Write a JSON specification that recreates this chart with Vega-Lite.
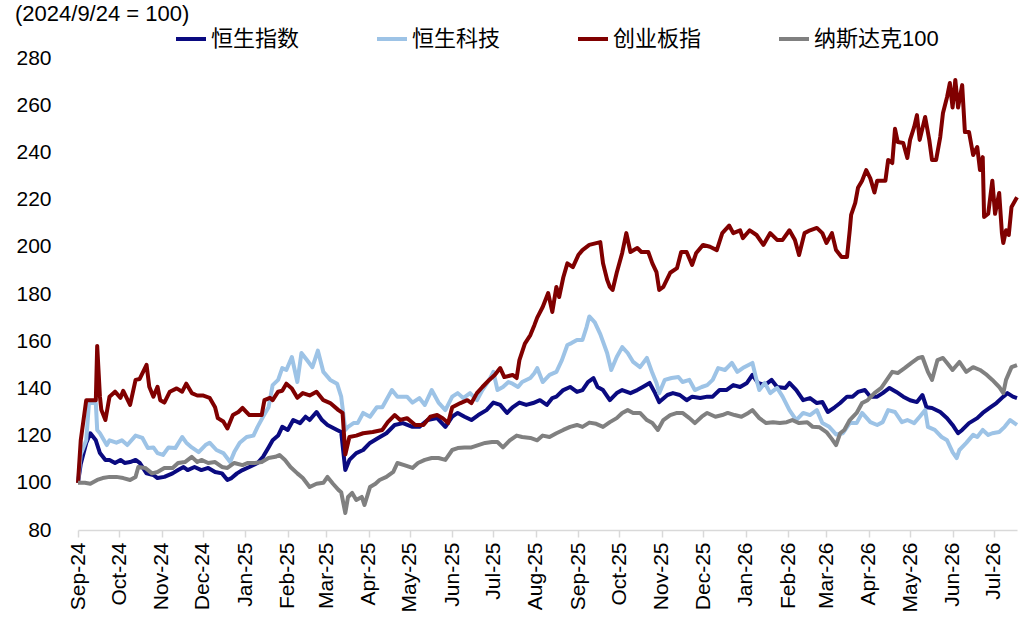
{
  "$schema": "https://vega.github.io/schema/vega-lite/v6.json",
  "width": 939,
  "height": 472,
  "autosize": {"type": "none"},
  "padding": {"left": 78, "top": 58, "right": 16, "bottom": 103},
  "background": "white",
  "config": {"view": {"stroke": null}, "font": "Liberation Sans, Noto Sans CJK SC"},
  "title": {
    "text": "(2024/9/24 = 100)",
    "anchor": "start",
    "frame": "group",
    "orient": "top",
    "fontSize": 22,
    "fontWeight": "normal",
    "font": "Liberation Sans",
    "color": "black",
    "dx": -63,
    "offset": -21,
    "baseline": "alphabetic"
  },
  "data": {
    "format": {"parse": {"date": "utc:'%Y-%m-%d'"}},
    "values": [
      {"date":"2024-09-24","index":"恒生指数","value":100},
      {"date":"2024-09-26","index":"恒生指数","value":108},
      {"date":"2024-09-30","index":"恒生指数","value":116.9},
      {"date":"2024-10-03","index":"恒生指数","value":121},
      {"date":"2024-10-07","index":"恒生指数","value":118},
      {"date":"2024-10-10","index":"恒生指数","value":112.6},
      {"date":"2024-10-14","index":"恒生指数","value":109.7},
      {"date":"2024-10-17","index":"恒生指数","value":109.7},
      {"date":"2024-10-21","index":"恒生指数","value":108.4},
      {"date":"2024-10-25","index":"恒生指数","value":109.7},
      {"date":"2024-10-28","index":"恒生指数","value":108.4},
      {"date":"2024-11-01","index":"恒生指数","value":108.8},
      {"date":"2024-11-05","index":"恒生指数","value":109.7},
      {"date":"2024-11-08","index":"恒生指数","value":108.4},
      {"date":"2024-11-13","index":"恒生指数","value":104},
      {"date":"2024-11-18","index":"恒生指数","value":103.3},
      {"date":"2024-11-21","index":"恒生指数","value":102},
      {"date":"2024-11-26","index":"恒生指数","value":102.5},
      {"date":"2024-12-02","index":"恒生指数","value":104},
      {"date":"2024-12-06","index":"恒生指数","value":105.4},
      {"date":"2024-12-10","index":"恒生指数","value":106.7},
      {"date":"2024-12-13","index":"恒生指数","value":105.4},
      {"date":"2024-12-18","index":"恒生指数","value":106.7},
      {"date":"2024-12-23","index":"恒生指数","value":105.4},
      {"date":"2024-12-28","index":"恒生指数","value":106.3},
      {"date":"2025-01-02","index":"恒生指数","value":104.6},
      {"date":"2025-01-07","index":"恒生指数","value":104},
      {"date":"2025-01-11","index":"恒生指数","value":101.2},
      {"date":"2025-01-14","index":"恒生指数","value":102},
      {"date":"2025-01-18","index":"恒生指数","value":104},
      {"date":"2025-01-22","index":"恒生指数","value":105.4},
      {"date":"2025-01-27","index":"恒生指数","value":106.7},
      {"date":"2025-02-02","index":"恒生指数","value":108.4},
      {"date":"2025-02-06","index":"恒生指数","value":111},
      {"date":"2025-02-10","index":"恒生指数","value":115},
      {"date":"2025-02-13","index":"恒生指数","value":118},
      {"date":"2025-02-17","index":"恒生指数","value":120},
      {"date":"2025-02-20","index":"恒生指数","value":123.7},
      {"date":"2025-02-24","index":"恒生指数","value":122.4},
      {"date":"2025-02-28","index":"恒生指数","value":126.6},
      {"date":"2025-03-05","index":"恒生指数","value":125.3},
      {"date":"2025-03-09","index":"恒生指数","value":128},
      {"date":"2025-03-12","index":"恒生指数","value":126.6},
      {"date":"2025-03-17","index":"恒生指数","value":130},
      {"date":"2025-03-21","index":"恒生指数","value":126.6},
      {"date":"2025-03-25","index":"恒生指数","value":124.5},
      {"date":"2025-04-01","index":"恒生指数","value":122.4},
      {"date":"2025-04-04","index":"恒生指数","value":121.5},
      {"date":"2025-04-07","index":"恒生指数","value":105.4},
      {"date":"2025-04-10","index":"恒生指数","value":109.7},
      {"date":"2025-04-15","index":"恒生指数","value":112.6},
      {"date":"2025-04-20","index":"恒生指数","value":113.9},
      {"date":"2025-04-25","index":"恒生指数","value":116.9},
      {"date":"2025-05-01","index":"恒生指数","value":119},
      {"date":"2025-05-07","index":"恒生指数","value":121},
      {"date":"2025-05-13","index":"恒生指数","value":124.5},
      {"date":"2025-05-19","index":"恒生指数","value":125.3},
      {"date":"2025-05-26","index":"恒生指数","value":123.7},
      {"date":"2025-05-31","index":"恒生指数","value":123.7},
      {"date":"2025-06-06","index":"恒生指数","value":126.6},
      {"date":"2025-06-13","index":"恒生指数","value":127.4},
      {"date":"2025-06-19","index":"恒生指数","value":123.7},
      {"date":"2025-06-24","index":"恒生指数","value":128},
      {"date":"2025-06-28","index":"恒生指数","value":129.6},
      {"date":"2025-07-03","index":"恒生指数","value":128},
      {"date":"2025-07-08","index":"恒生指数","value":126.6},
      {"date":"2025-07-13","index":"恒生指数","value":128.7},
      {"date":"2025-07-19","index":"恒生指数","value":130.8},
      {"date":"2025-07-24","index":"恒生指数","value":134},
      {"date":"2025-07-29","index":"恒生指数","value":133},
      {"date":"2025-08-03","index":"恒生指数","value":129.6},
      {"date":"2025-08-07","index":"恒生指数","value":132},
      {"date":"2025-08-12","index":"恒生指数","value":134},
      {"date":"2025-08-17","index":"恒生指数","value":133},
      {"date":"2025-08-22","index":"恒生指数","value":133.8},
      {"date":"2025-08-27","index":"恒生指数","value":135},
      {"date":"2025-09-01","index":"恒生指数","value":133},
      {"date":"2025-09-05","index":"恒生指数","value":135.9},
      {"date":"2025-09-08","index":"恒生指数","value":136.5},
      {"date":"2025-09-13","index":"恒生指数","value":139.3},
      {"date":"2025-09-18","index":"恒生指数","value":140.6},
      {"date":"2025-09-23","index":"恒生指数","value":138.5},
      {"date":"2025-09-27","index":"恒生指数","value":139.3},
      {"date":"2025-10-01","index":"恒生指数","value":142.7},
      {"date":"2025-10-05","index":"恒生指数","value":144.4},
      {"date":"2025-10-08","index":"恒生指数","value":140.6},
      {"date":"2025-10-12","index":"恒生指数","value":139.3},
      {"date":"2025-10-17","index":"恒生指数","value":135},
      {"date":"2025-10-22","index":"恒生指数","value":138},
      {"date":"2025-10-26","index":"恒生指数","value":139.3},
      {"date":"2025-11-01","index":"恒生指数","value":138},
      {"date":"2025-11-06","index":"恒生指数","value":139.3},
      {"date":"2025-11-10","index":"恒生指数","value":140.6},
      {"date":"2025-11-15","index":"恒生指数","value":142.3},
      {"date":"2025-11-19","index":"恒生指数","value":138},
      {"date":"2025-11-22","index":"恒生指数","value":134.2},
      {"date":"2025-11-28","index":"恒生指数","value":137.2},
      {"date":"2025-12-02","index":"恒生指数","value":138},
      {"date":"2025-12-07","index":"恒生指数","value":137.2},
      {"date":"2025-12-12","index":"恒生指数","value":135},
      {"date":"2025-12-16","index":"恒生指数","value":136.5},
      {"date":"2025-12-22","index":"恒生指数","value":135.9},
      {"date":"2025-12-27","index":"恒生指数","value":136.5},
      {"date":"2025-12-31","index":"恒生指数","value":136.5},
      {"date":"2026-01-05","index":"恒生指数","value":139.3},
      {"date":"2026-01-10","index":"恒生指数","value":139.3},
      {"date":"2026-01-15","index":"恒生指数","value":141.4},
      {"date":"2026-01-20","index":"恒生指数","value":140.6},
      {"date":"2026-01-25","index":"恒生指数","value":142.3},
      {"date":"2026-01-29","index":"恒生指数","value":145.7},
      {"date":"2026-02-02","index":"恒生指数","value":142.3},
      {"date":"2026-02-07","index":"恒生指数","value":141.4},
      {"date":"2026-02-12","index":"恒生指数","value":143.6},
      {"date":"2026-02-16","index":"恒生指数","value":140.6},
      {"date":"2026-02-22","index":"恒生指数","value":140.2},
      {"date":"2026-02-25","index":"恒生指数","value":142.3},
      {"date":"2026-03-02","index":"恒生指数","value":139.3},
      {"date":"2026-03-07","index":"恒生指数","value":135},
      {"date":"2026-03-12","index":"恒生指数","value":135.9},
      {"date":"2026-03-17","index":"恒生指数","value":133.8},
      {"date":"2026-03-21","index":"恒生指数","value":134.2},
      {"date":"2026-03-25","index":"恒生指数","value":130},
      {"date":"2026-03-30","index":"恒生指数","value":132},
      {"date":"2026-04-03","index":"恒生指数","value":133.8},
      {"date":"2026-04-08","index":"恒生指数","value":136.5},
      {"date":"2026-04-12","index":"恒生指数","value":136.5},
      {"date":"2026-04-16","index":"恒生指数","value":138.5},
      {"date":"2026-04-21","index":"恒生指数","value":139.3},
      {"date":"2026-04-25","index":"恒生指数","value":136.5},
      {"date":"2026-04-30","index":"恒生指数","value":136.5},
      {"date":"2026-05-04","index":"恒生指数","value":138},
      {"date":"2026-05-09","index":"恒生指数","value":140.2},
      {"date":"2026-05-14","index":"恒生指数","value":138.5},
      {"date":"2026-05-19","index":"恒生指数","value":136.5},
      {"date":"2026-05-24","index":"恒生指数","value":135},
      {"date":"2026-05-29","index":"恒生指数","value":134.2},
      {"date":"2026-06-02","index":"恒生指数","value":137.2},
      {"date":"2026-06-05","index":"恒生指数","value":132},
      {"date":"2026-06-09","index":"恒生指数","value":131.7},
      {"date":"2026-06-15","index":"恒生指数","value":130},
      {"date":"2026-06-20","index":"恒生指数","value":127.4},
      {"date":"2026-06-24","index":"恒生指数","value":124.5},
      {"date":"2026-06-28","index":"恒生指数","value":121},
      {"date":"2026-07-01","index":"恒生指数","value":122.4},
      {"date":"2026-07-06","index":"恒生指数","value":125.3},
      {"date":"2026-07-12","index":"恒生指数","value":127.4},
      {"date":"2026-07-16","index":"恒生指数","value":129.6},
      {"date":"2026-07-21","index":"恒生指数","value":131.7},
      {"date":"2026-07-26","index":"恒生指数","value":133.8},
      {"date":"2026-07-31","index":"恒生指数","value":136.5},
      {"date":"2026-08-03","index":"恒生指数","value":138},
      {"date":"2026-08-07","index":"恒生指数","value":136.5},
      {"date":"2026-08-10","index":"恒生指数","value":135.9},

      {"date":"2024-09-24","index":"恒生科技","value":100},
      {"date":"2024-09-26","index":"恒生科技","value":112},
      {"date":"2024-09-30","index":"恒生科技","value":118},
      {"date":"2024-10-02","index":"恒生科技","value":133.8},
      {"date":"2024-10-07","index":"恒生科技","value":133.8},
      {"date":"2024-10-08","index":"恒生科技","value":122.4},
      {"date":"2024-10-10","index":"恒生科技","value":121},
      {"date":"2024-10-15","index":"恒生科技","value":116},
      {"date":"2024-10-17","index":"恒生科技","value":118},
      {"date":"2024-10-22","index":"恒生科技","value":117},
      {"date":"2024-10-26","index":"恒生科技","value":118},
      {"date":"2024-10-30","index":"恒生科技","value":116},
      {"date":"2024-11-05","index":"恒生科技","value":120},
      {"date":"2024-11-10","index":"恒生科技","value":119},
      {"date":"2024-11-14","index":"恒生科技","value":114.7},
      {"date":"2024-11-18","index":"恒生科技","value":115},
      {"date":"2024-11-21","index":"恒生科技","value":112.6},
      {"date":"2024-11-25","index":"恒生科技","value":111.8},
      {"date":"2024-11-29","index":"恒生科技","value":115},
      {"date":"2024-12-04","index":"恒生科技","value":114.7},
      {"date":"2024-12-09","index":"恒生科技","value":119.4},
      {"date":"2024-12-12","index":"恒生科技","value":117},
      {"date":"2024-12-16","index":"恒生科技","value":115},
      {"date":"2024-12-21","index":"恒生科技","value":113},
      {"date":"2024-12-26","index":"恒生科技","value":116},
      {"date":"2024-12-29","index":"恒生科技","value":117},
      {"date":"2025-01-03","index":"恒生科技","value":113.9},
      {"date":"2025-01-08","index":"恒生科技","value":112.6},
      {"date":"2025-01-13","index":"恒生科技","value":108.8},
      {"date":"2025-01-16","index":"恒生科技","value":113},
      {"date":"2025-01-20","index":"恒生科技","value":117},
      {"date":"2025-01-25","index":"恒生科技","value":119.4},
      {"date":"2025-01-30","index":"恒生科技","value":120},
      {"date":"2025-02-02","index":"恒生科技","value":123.7},
      {"date":"2025-02-06","index":"恒生科技","value":128},
      {"date":"2025-02-10","index":"恒生科技","value":132},
      {"date":"2025-02-13","index":"恒生科技","value":141.4},
      {"date":"2025-02-17","index":"恒生科技","value":143.6},
      {"date":"2025-02-20","index":"恒生科技","value":148.6},
      {"date":"2025-02-23","index":"恒生科技","value":147.8},
      {"date":"2025-02-27","index":"恒生科技","value":153.3},
      {"date":"2025-03-03","index":"恒生科技","value":142.7},
      {"date":"2025-03-06","index":"恒生科技","value":155},
      {"date":"2025-03-10","index":"恒生科技","value":152},
      {"date":"2025-03-14","index":"恒生科技","value":149},
      {"date":"2025-03-18","index":"恒生科技","value":156},
      {"date":"2025-03-22","index":"恒生科技","value":147},
      {"date":"2025-03-27","index":"恒生科技","value":143.6},
      {"date":"2025-04-01","index":"恒生科技","value":142},
      {"date":"2025-04-04","index":"恒生科技","value":136.5},
      {"date":"2025-04-07","index":"恒生科技","value":122.4},
      {"date":"2025-04-09","index":"恒生科技","value":123.7},
      {"date":"2025-04-13","index":"恒生科技","value":125.3},
      {"date":"2025-04-16","index":"恒生科技","value":125.3},
      {"date":"2025-04-20","index":"恒生科技","value":129.6},
      {"date":"2025-04-25","index":"恒生科技","value":128},
      {"date":"2025-04-30","index":"恒生科技","value":132},
      {"date":"2025-05-04","index":"恒生科技","value":132},
      {"date":"2025-05-11","index":"恒生科技","value":139.3},
      {"date":"2025-05-15","index":"恒生科技","value":136.5},
      {"date":"2025-05-22","index":"恒生科技","value":136.5},
      {"date":"2025-05-26","index":"恒生科技","value":134},
      {"date":"2025-05-31","index":"恒生科技","value":135.9},
      {"date":"2025-06-04","index":"恒生科技","value":133},
      {"date":"2025-06-09","index":"恒生科技","value":139.3},
      {"date":"2025-06-14","index":"恒生科技","value":134},
      {"date":"2025-06-19","index":"恒生科技","value":130.8},
      {"date":"2025-06-24","index":"恒生科技","value":136.5},
      {"date":"2025-06-28","index":"恒生科技","value":138},
      {"date":"2025-07-02","index":"恒生科技","value":135.9},
      {"date":"2025-07-07","index":"恒生科技","value":138},
      {"date":"2025-07-12","index":"恒生科技","value":135},
      {"date":"2025-07-16","index":"恒生科技","value":139.3},
      {"date":"2025-07-21","index":"恒生科技","value":143.6},
      {"date":"2025-07-24","index":"恒生科技","value":147},
      {"date":"2025-07-27","index":"恒生科技","value":139.3},
      {"date":"2025-07-31","index":"恒生科技","value":140.6},
      {"date":"2025-08-04","index":"恒生科技","value":142.7},
      {"date":"2025-08-07","index":"恒生科技","value":142},
      {"date":"2025-08-11","index":"恒生科技","value":140.6},
      {"date":"2025-08-14","index":"恒生科技","value":142.7},
      {"date":"2025-08-20","index":"恒生科技","value":144.4},
      {"date":"2025-08-23","index":"恒生科技","value":146.5},
      {"date":"2025-08-25","index":"恒生科技","value":148.6},
      {"date":"2025-08-29","index":"恒生科技","value":142.7},
      {"date":"2025-09-03","index":"恒生科技","value":145.7},
      {"date":"2025-09-08","index":"恒生科技","value":147},
      {"date":"2025-09-12","index":"恒生科技","value":152},
      {"date":"2025-09-16","index":"恒生科技","value":158.4},
      {"date":"2025-09-19","index":"恒生科技","value":159.2},
      {"date":"2025-09-23","index":"恒生科技","value":160.5},
      {"date":"2025-09-27","index":"恒生科技","value":160.5},
      {"date":"2025-09-30","index":"恒生科技","value":166},
      {"date":"2025-10-02","index":"恒生科技","value":170.5},
      {"date":"2025-10-06","index":"恒生科技","value":168},
      {"date":"2025-10-10","index":"恒生科技","value":163},
      {"date":"2025-10-15","index":"恒生科技","value":155},
      {"date":"2025-10-18","index":"恒生科技","value":147.8},
      {"date":"2025-10-22","index":"恒生科技","value":153.3},
      {"date":"2025-10-26","index":"恒生科技","value":157.5},
      {"date":"2025-10-30","index":"恒生科技","value":155},
      {"date":"2025-11-03","index":"恒生科技","value":151.2},
      {"date":"2025-11-08","index":"恒生科技","value":149},
      {"date":"2025-11-13","index":"恒生科技","value":152.9},
      {"date":"2025-11-17","index":"恒生科技","value":146.5},
      {"date":"2025-11-20","index":"恒生科技","value":142.3},
      {"date":"2025-11-22","index":"恒生科技","value":138},
      {"date":"2025-11-26","index":"恒生科技","value":143.6},
      {"date":"2025-12-01","index":"恒生科技","value":144.4},
      {"date":"2025-12-06","index":"恒生科技","value":144.8},
      {"date":"2025-12-09","index":"恒生科技","value":142.7},
      {"date":"2025-12-14","index":"恒生科技","value":143.6},
      {"date":"2025-12-18","index":"恒生科技","value":139.3},
      {"date":"2025-12-23","index":"恒生科技","value":140.6},
      {"date":"2025-12-27","index":"恒生科技","value":141.4},
      {"date":"2025-12-31","index":"恒生科技","value":143.6},
      {"date":"2026-01-04","index":"恒生科技","value":148.6},
      {"date":"2026-01-09","index":"恒生科技","value":147.8},
      {"date":"2026-01-14","index":"恒生科技","value":150.8},
      {"date":"2026-01-18","index":"恒生科技","value":147},
      {"date":"2026-01-23","index":"恒生科技","value":149},
      {"date":"2026-01-29","index":"恒生科技","value":150.8},
      {"date":"2026-02-01","index":"恒生科技","value":143.6},
      {"date":"2026-02-03","index":"恒生科技","value":139.3},
      {"date":"2026-02-07","index":"恒生科技","value":142.3},
      {"date":"2026-02-11","index":"恒生科技","value":138},
      {"date":"2026-02-16","index":"恒生科技","value":140.2},
      {"date":"2026-02-20","index":"恒生科技","value":136.5},
      {"date":"2026-02-25","index":"恒生科技","value":130.8},
      {"date":"2026-03-02","index":"恒生科技","value":126.6},
      {"date":"2026-03-07","index":"恒生科技","value":129.6},
      {"date":"2026-03-12","index":"恒生科技","value":128.7},
      {"date":"2026-03-17","index":"恒生科技","value":130.8},
      {"date":"2026-03-21","index":"恒生科技","value":125.3},
      {"date":"2026-03-26","index":"恒生科技","value":123.7},
      {"date":"2026-03-31","index":"恒生科技","value":120.5},
      {"date":"2026-04-05","index":"恒生科技","value":121},
      {"date":"2026-04-10","index":"恒生科技","value":125.3},
      {"date":"2026-04-15","index":"恒生科技","value":125.3},
      {"date":"2026-04-19","index":"恒生科技","value":129.6},
      {"date":"2026-04-25","index":"恒生科技","value":125.7},
      {"date":"2026-04-30","index":"恒生科技","value":124.5},
      {"date":"2026-05-04","index":"恒生科技","value":125.7},
      {"date":"2026-05-08","index":"恒生科技","value":130.8},
      {"date":"2026-05-13","index":"恒生科技","value":130},
      {"date":"2026-05-18","index":"恒生科技","value":125.7},
      {"date":"2026-05-22","index":"恒生科技","value":126.6},
      {"date":"2026-05-27","index":"恒生科技","value":125.3},
      {"date":"2026-05-31","index":"恒生科技","value":128},
      {"date":"2026-06-04","index":"恒生科技","value":130.8},
      {"date":"2026-06-06","index":"恒生科技","value":123.7},
      {"date":"2026-06-11","index":"恒生科技","value":122.4},
      {"date":"2026-06-16","index":"恒生科技","value":119.4},
      {"date":"2026-06-20","index":"恒生科技","value":118},
      {"date":"2026-06-24","index":"恒生科技","value":113},
      {"date":"2026-06-27","index":"恒生科技","value":110.5},
      {"date":"2026-06-29","index":"恒生科技","value":113.9},
      {"date":"2026-07-04","index":"恒生科技","value":116.9},
      {"date":"2026-07-09","index":"恒生科技","value":120.3},
      {"date":"2026-07-12","index":"恒生科技","value":119.4},
      {"date":"2026-07-16","index":"恒生科技","value":122.4},
      {"date":"2026-07-20","index":"恒生科技","value":120.3},
      {"date":"2026-07-23","index":"恒生科技","value":121},
      {"date":"2026-07-28","index":"恒生科技","value":121.5},
      {"date":"2026-08-01","index":"恒生科技","value":123.7},
      {"date":"2026-08-05","index":"恒生科技","value":126.6},
      {"date":"2026-08-10","index":"恒生科技","value":124.5},

      {"date":"2024-09-24","index":"创业板指","value":100},
      {"date":"2024-09-26","index":"创业板指","value":118},
      {"date":"2024-09-30","index":"创业板指","value":135},
      {"date":"2024-10-07","index":"创业板指","value":135},
      {"date":"2024-10-08","index":"创业板指","value":158},
      {"date":"2024-10-10","index":"创业板指","value":136.5},
      {"date":"2024-10-11","index":"创业板指","value":131},
      {"date":"2024-10-14","index":"创业板指","value":126.6},
      {"date":"2024-10-17","index":"创业板指","value":136.5},
      {"date":"2024-10-21","index":"创业板指","value":138.6},
      {"date":"2024-10-25","index":"创业板指","value":136},
      {"date":"2024-10-27","index":"创业板指","value":139},
      {"date":"2024-11-01","index":"创业板指","value":133},
      {"date":"2024-11-05","index":"创业板指","value":143.6},
      {"date":"2024-11-08","index":"创业板指","value":144},
      {"date":"2024-11-13","index":"创业板指","value":150},
      {"date":"2024-11-15","index":"创业板指","value":140.7},
      {"date":"2024-11-18","index":"创业板指","value":136.5},
      {"date":"2024-11-21","index":"创业板指","value":140.7},
      {"date":"2024-11-23","index":"创业板指","value":135},
      {"date":"2024-11-26","index":"创业板指","value":134},
      {"date":"2024-11-30","index":"创业板指","value":138.6},
      {"date":"2024-12-05","index":"创业板指","value":140},
      {"date":"2024-12-09","index":"创业板指","value":138.6},
      {"date":"2024-12-12","index":"创业板指","value":142},
      {"date":"2024-12-16","index":"创业板指","value":138},
      {"date":"2024-12-20","index":"创业板指","value":137},
      {"date":"2024-12-24","index":"创业板指","value":137},
      {"date":"2024-12-29","index":"创业板指","value":136},
      {"date":"2025-01-02","index":"创业板指","value":132},
      {"date":"2025-01-04","index":"创业板指","value":127.4},
      {"date":"2025-01-08","index":"创业板指","value":126},
      {"date":"2025-01-11","index":"创业板指","value":123},
      {"date":"2025-01-15","index":"创业板指","value":128.7},
      {"date":"2025-01-19","index":"创业板指","value":130},
      {"date":"2025-01-22","index":"创业板指","value":131.7},
      {"date":"2025-01-27","index":"创业板指","value":128.7},
      {"date":"2025-02-05","index":"创业板指","value":128.7},
      {"date":"2025-02-07","index":"创业板指","value":135},
      {"date":"2025-02-11","index":"创业板指","value":136},
      {"date":"2025-02-13","index":"创业板指","value":135},
      {"date":"2025-02-17","index":"创业板指","value":138.6},
      {"date":"2025-02-20","index":"创业板指","value":139},
      {"date":"2025-02-23","index":"创业板指","value":142},
      {"date":"2025-02-27","index":"创业板指","value":140},
      {"date":"2025-03-03","index":"创业板指","value":136},
      {"date":"2025-03-07","index":"创业板指","value":138},
      {"date":"2025-03-12","index":"创业板指","value":137},
      {"date":"2025-03-17","index":"创业板指","value":138.6},
      {"date":"2025-03-22","index":"创业板指","value":135},
      {"date":"2025-03-27","index":"创业板指","value":133.8},
      {"date":"2025-04-02","index":"创业板指","value":130.8},
      {"date":"2025-04-05","index":"创业板指","value":129.6},
      {"date":"2025-04-07","index":"创业板指","value":112},
      {"date":"2025-04-10","index":"创业板指","value":119.4},
      {"date":"2025-04-15","index":"创业板指","value":120},
      {"date":"2025-04-20","index":"创业板指","value":121},
      {"date":"2025-04-27","index":"创业板指","value":121.5},
      {"date":"2025-05-04","index":"创业板指","value":122.4},
      {"date":"2025-05-08","index":"创业板指","value":125.7},
      {"date":"2025-05-13","index":"创业板指","value":128.7},
      {"date":"2025-05-17","index":"创业板指","value":126.6},
      {"date":"2025-05-22","index":"创业板指","value":127.4},
      {"date":"2025-05-28","index":"创业板指","value":124.5},
      {"date":"2025-06-03","index":"创业板指","value":124.5},
      {"date":"2025-06-08","index":"创业板指","value":128},
      {"date":"2025-06-13","index":"创业板指","value":128.7},
      {"date":"2025-06-17","index":"创业板指","value":127.4},
      {"date":"2025-06-21","index":"创业板指","value":125.3},
      {"date":"2025-06-24","index":"创业板指","value":132},
      {"date":"2025-06-30","index":"创业板指","value":133.8},
      {"date":"2025-07-05","index":"创业板指","value":135},
      {"date":"2025-07-08","index":"创业板指","value":133.8},
      {"date":"2025-07-12","index":"创业板指","value":138},
      {"date":"2025-07-16","index":"创业板指","value":140.6},
      {"date":"2025-07-21","index":"创业板指","value":143.6},
      {"date":"2025-07-25","index":"创业板指","value":145.7},
      {"date":"2025-07-29","index":"创业板指","value":148.6},
      {"date":"2025-08-01","index":"创业板指","value":144.8},
      {"date":"2025-08-07","index":"创业板指","value":145.7},
      {"date":"2025-08-10","index":"创业板指","value":144.4},
      {"date":"2025-08-12","index":"创业板指","value":152},
      {"date":"2025-08-16","index":"创业板指","value":159},
      {"date":"2025-08-20","index":"创业板指","value":162.6},
      {"date":"2025-08-23","index":"创业板指","value":166.9},
      {"date":"2025-08-25","index":"创业板指","value":170},
      {"date":"2025-08-29","index":"创业板指","value":174.5},
      {"date":"2025-09-02","index":"创业板指","value":180.4},
      {"date":"2025-09-05","index":"创业板指","value":172.4},
      {"date":"2025-09-08","index":"创业板指","value":183},
      {"date":"2025-09-10","index":"创业板指","value":178.7},
      {"date":"2025-09-13","index":"创业板指","value":187},
      {"date":"2025-09-16","index":"创业板指","value":193},
      {"date":"2025-09-20","index":"创业板指","value":191.4},
      {"date":"2025-09-24","index":"创业板指","value":196.5},
      {"date":"2025-09-27","index":"创业板指","value":198.6},
      {"date":"2025-10-02","index":"创业板指","value":200.8},
      {"date":"2025-10-10","index":"创业板指","value":202},
      {"date":"2025-10-12","index":"创业板指","value":193},
      {"date":"2025-10-15","index":"创业板指","value":186},
      {"date":"2025-10-17","index":"创业板指","value":183},
      {"date":"2025-10-19","index":"创业板指","value":181.7},
      {"date":"2025-10-22","index":"创业板指","value":189},
      {"date":"2025-10-26","index":"创业板指","value":197.4},
      {"date":"2025-10-29","index":"创业板指","value":205.8},
      {"date":"2025-11-01","index":"创业板指","value":197.8},
      {"date":"2025-11-06","index":"创业板指","value":199.5},
      {"date":"2025-11-09","index":"创业板指","value":197.8},
      {"date":"2025-11-14","index":"创业板指","value":197.8},
      {"date":"2025-11-17","index":"创业板指","value":193},
      {"date":"2025-11-20","index":"创业板指","value":189.3},
      {"date":"2025-11-22","index":"创业板指","value":181.7},
      {"date":"2025-11-25","index":"创业板指","value":183},
      {"date":"2025-11-30","index":"创业板指","value":189},
      {"date":"2025-12-05","index":"创业板指","value":191},
      {"date":"2025-12-08","index":"创业板指","value":197.8},
      {"date":"2025-12-12","index":"创业板指","value":197.8},
      {"date":"2025-12-16","index":"创业板指","value":192.3},
      {"date":"2025-12-19","index":"创业板指","value":197.4},
      {"date":"2025-12-24","index":"创业板指","value":200.8},
      {"date":"2025-12-29","index":"创业板指","value":200},
      {"date":"2026-01-03","index":"创业板指","value":198.6},
      {"date":"2026-01-07","index":"创业板指","value":205.8},
      {"date":"2026-01-12","index":"创业板指","value":209},
      {"date":"2026-01-15","index":"创业板指","value":205.8},
      {"date":"2026-01-20","index":"创业板指","value":207},
      {"date":"2026-01-22","index":"创业板指","value":203.7},
      {"date":"2026-01-27","index":"创业板指","value":207},
      {"date":"2026-02-01","index":"创业板指","value":205},
      {"date":"2026-02-06","index":"创业板指","value":200.8},
      {"date":"2026-02-11","index":"创业板指","value":205.8},
      {"date":"2026-02-16","index":"创业板指","value":202.9},
      {"date":"2026-02-20","index":"创业板指","value":202.9},
      {"date":"2026-02-25","index":"创业板指","value":207},
      {"date":"2026-03-01","index":"创业板指","value":202.9},
      {"date":"2026-03-04","index":"创业板指","value":196.5},
      {"date":"2026-03-08","index":"创业板指","value":205.8},
      {"date":"2026-03-12","index":"创业板指","value":207},
      {"date":"2026-03-17","index":"创业板指","value":208},
      {"date":"2026-03-21","index":"创业板指","value":205.8},
      {"date":"2026-03-24","index":"创业板指","value":201.6},
      {"date":"2026-03-28","index":"创业板指","value":205.8},
      {"date":"2026-03-31","index":"创业板指","value":198.6},
      {"date":"2026-04-04","index":"创业板指","value":195.7},
      {"date":"2026-04-08","index":"创业板指","value":195.7},
      {"date":"2026-04-10","index":"创业板指","value":207},
      {"date":"2026-04-11","index":"创业板指","value":213.5},
      {"date":"2026-04-14","index":"创业板指","value":218.6},
      {"date":"2026-04-16","index":"创业板指","value":225},
      {"date":"2026-04-19","index":"创业板指","value":228},
      {"date":"2026-04-22","index":"创业板指","value":232.5},
      {"date":"2026-04-25","index":"创业板指","value":229},
      {"date":"2026-04-28","index":"创业板指","value":223},
      {"date":"2026-04-30","index":"创业板指","value":228},
      {"date":"2026-05-06","index":"创业板指","value":228},
      {"date":"2026-05-08","index":"创业板指","value":236.8},
      {"date":"2026-05-11","index":"创业板指","value":235.5},
      {"date":"2026-05-13","index":"创业板指","value":250},
      {"date":"2026-05-15","index":"创业板指","value":244.4},
      {"date":"2026-05-19","index":"创业板指","value":244},
      {"date":"2026-05-22","index":"创业板指","value":237.6},
      {"date":"2026-05-24","index":"创业板指","value":245.3},
      {"date":"2026-05-27","index":"创业板指","value":250.8},
      {"date":"2026-05-29","index":"创业板指","value":255.8},
      {"date":"2026-05-31","index":"创业板指","value":245.3},
      {"date":"2026-06-04","index":"创业板指","value":255},
      {"date":"2026-06-07","index":"创业板指","value":245.3},
      {"date":"2026-06-09","index":"创业板指","value":236.8},
      {"date":"2026-06-12","index":"创业板指","value":236.8},
      {"date":"2026-06-15","index":"创业板指","value":246.5},
      {"date":"2026-06-17","index":"创业板指","value":256.7},
      {"date":"2026-06-20","index":"创业板指","value":263.5},
      {"date":"2026-06-22","index":"创业板指","value":269.4},
      {"date":"2026-06-24","index":"创业板指","value":259},
      {"date":"2026-06-26","index":"创业板指","value":270.7},
      {"date":"2026-06-28","index":"创业板指","value":259},
      {"date":"2026-07-01","index":"创业板指","value":268.5},
      {"date":"2026-07-03","index":"创业板指","value":248.6},
      {"date":"2026-07-06","index":"创业板指","value":248.6},
      {"date":"2026-07-09","index":"创业板指","value":238.9},
      {"date":"2026-07-12","index":"创业板指","value":242.3},
      {"date":"2026-07-14","index":"创业板指","value":232.5},
      {"date":"2026-07-16","index":"创业板指","value":238},
      {"date":"2026-07-17","index":"创业板指","value":212.6},
      {"date":"2026-07-20","index":"创业板指","value":214},
      {"date":"2026-07-23","index":"创业板指","value":228},
      {"date":"2026-07-25","index":"创业板指","value":214},
      {"date":"2026-07-28","index":"创业板指","value":222.8},
      {"date":"2026-07-30","index":"创业板指","value":205.8},
      {"date":"2026-07-31","index":"创业板指","value":201.6},
      {"date":"2026-08-02","index":"创业板指","value":207},
      {"date":"2026-08-04","index":"创业板指","value":205},
      {"date":"2026-08-06","index":"创业板指","value":216.9},
      {"date":"2026-08-10","index":"创业板指","value":221},

      {"date":"2024-09-24","index":"纳斯达克100","value":100},
      {"date":"2024-09-29","index":"纳斯达克100","value":100},
      {"date":"2024-10-03","index":"纳斯达克100","value":99.6},
      {"date":"2024-10-08","index":"纳斯达克100","value":101.2},
      {"date":"2024-10-12","index":"纳斯达克100","value":102},
      {"date":"2024-10-17","index":"纳斯达克100","value":102.5},
      {"date":"2024-10-22","index":"纳斯达克100","value":102.5},
      {"date":"2024-10-27","index":"纳斯达克100","value":102},
      {"date":"2024-11-01","index":"纳斯达克100","value":101.2},
      {"date":"2024-11-05","index":"纳斯达克100","value":102.5},
      {"date":"2024-11-07","index":"纳斯达克100","value":106.7},
      {"date":"2024-11-12","index":"纳斯达克100","value":106.3},
      {"date":"2024-11-17","index":"纳斯达克100","value":104},
      {"date":"2024-11-21","index":"纳斯达克100","value":104.6},
      {"date":"2024-11-26","index":"纳斯达克100","value":106.3},
      {"date":"2024-12-02","index":"纳斯达克100","value":106.3},
      {"date":"2024-12-06","index":"纳斯达克100","value":108.4},
      {"date":"2024-12-11","index":"纳斯达克100","value":108.8},
      {"date":"2024-12-16","index":"纳斯达克100","value":111},
      {"date":"2024-12-20","index":"纳斯达克100","value":108.8},
      {"date":"2024-12-23","index":"纳斯达克100","value":109.7},
      {"date":"2024-12-28","index":"纳斯达克100","value":108.4},
      {"date":"2025-01-02","index":"纳斯达克100","value":108.8},
      {"date":"2025-01-07","index":"纳斯达克100","value":106.7},
      {"date":"2025-01-11","index":"纳斯达克100","value":106.3},
      {"date":"2025-01-16","index":"纳斯达克100","value":108.4},
      {"date":"2025-01-22","index":"纳斯达克100","value":107.5},
      {"date":"2025-01-26","index":"纳斯达克100","value":108.4},
      {"date":"2025-01-31","index":"纳斯达克100","value":108.4},
      {"date":"2025-02-05","index":"纳斯达克100","value":108.8},
      {"date":"2025-02-10","index":"纳斯达克100","value":110.5},
      {"date":"2025-02-15","index":"纳斯达克100","value":111},
      {"date":"2025-02-18","index":"纳斯达克100","value":111.8},
      {"date":"2025-02-22","index":"纳斯达克100","value":109.7},
      {"date":"2025-02-26","index":"纳斯达克100","value":106.7},
      {"date":"2025-03-03","index":"纳斯达克100","value":104},
      {"date":"2025-03-07","index":"纳斯达克100","value":102},
      {"date":"2025-03-12","index":"纳斯达克100","value":98.2},
      {"date":"2025-03-17","index":"纳斯达克100","value":99.6},
      {"date":"2025-03-22","index":"纳斯达克100","value":100},
      {"date":"2025-03-25","index":"纳斯达克100","value":102.5},
      {"date":"2025-03-29","index":"纳斯达克100","value":99.6},
      {"date":"2025-04-02","index":"纳斯达克100","value":97},
      {"date":"2025-04-04","index":"纳斯达克100","value":96},
      {"date":"2025-04-07","index":"纳斯达克100","value":87.2},
      {"date":"2025-04-09","index":"纳斯达克100","value":94},
      {"date":"2025-04-12","index":"纳斯达克100","value":95.7},
      {"date":"2025-04-15","index":"纳斯达克100","value":92.7},
      {"date":"2025-04-19","index":"纳斯达克100","value":94},
      {"date":"2025-04-21","index":"纳斯达克100","value":90.6},
      {"date":"2025-04-25","index":"纳斯达克100","value":98.2},
      {"date":"2025-04-29","index":"纳斯达克100","value":99.6},
      {"date":"2025-05-02","index":"纳斯达克100","value":101.2},
      {"date":"2025-05-07","index":"纳斯达克100","value":102.5},
      {"date":"2025-05-12","index":"纳斯达克100","value":104.6},
      {"date":"2025-05-15","index":"纳斯达克100","value":108.4},
      {"date":"2025-05-20","index":"纳斯达克100","value":107.5},
      {"date":"2025-05-26","index":"纳斯达克100","value":106.3},
      {"date":"2025-05-30","index":"纳斯达克100","value":108.4},
      {"date":"2025-06-04","index":"纳斯达克100","value":109.7},
      {"date":"2025-06-09","index":"纳斯达克100","value":110.5},
      {"date":"2025-06-14","index":"纳斯达克100","value":110.5},
      {"date":"2025-06-19","index":"纳斯达克100","value":109.7},
      {"date":"2025-06-24","index":"纳斯达克100","value":113.9},
      {"date":"2025-06-28","index":"纳斯达克100","value":114.7},
      {"date":"2025-07-03","index":"纳斯达克100","value":115},
      {"date":"2025-07-08","index":"纳斯达克100","value":115},
      {"date":"2025-07-13","index":"纳斯达克100","value":116},
      {"date":"2025-07-18","index":"纳斯达克100","value":116.9},
      {"date":"2025-07-23","index":"纳斯达克100","value":117.3},
      {"date":"2025-07-27","index":"纳斯达克100","value":117.3},
      {"date":"2025-07-31","index":"纳斯达克100","value":115},
      {"date":"2025-08-05","index":"纳斯达克100","value":118},
      {"date":"2025-08-10","index":"纳斯达克100","value":120},
      {"date":"2025-08-14","index":"纳斯达克100","value":119.4},
      {"date":"2025-08-20","index":"纳斯达克100","value":119},
      {"date":"2025-08-25","index":"纳斯达克100","value":118},
      {"date":"2025-08-29","index":"纳斯达克100","value":120},
      {"date":"2025-09-03","index":"纳斯达克100","value":119.4},
      {"date":"2025-09-08","index":"纳斯达克100","value":121},
      {"date":"2025-09-13","index":"纳斯达克100","value":122.4},
      {"date":"2025-09-18","index":"纳斯达克100","value":123.7},
      {"date":"2025-09-23","index":"纳斯达克100","value":124.5},
      {"date":"2025-09-27","index":"纳斯达克100","value":123.7},
      {"date":"2025-10-02","index":"纳斯达克100","value":125.5},
      {"date":"2025-10-07","index":"纳斯达克100","value":125},
      {"date":"2025-10-12","index":"纳斯达克100","value":123.7},
      {"date":"2025-10-17","index":"纳斯达克100","value":125.7},
      {"date":"2025-10-22","index":"纳斯达克100","value":127.4},
      {"date":"2025-10-26","index":"纳斯达克100","value":129.6},
      {"date":"2025-10-30","index":"纳斯达克100","value":130.8},
      {"date":"2025-11-03","index":"纳斯达克100","value":129.6},
      {"date":"2025-11-08","index":"纳斯达克100","value":129.6},
      {"date":"2025-11-13","index":"纳斯达克100","value":126.6},
      {"date":"2025-11-17","index":"纳斯达克100","value":125.3},
      {"date":"2025-11-21","index":"纳斯达克100","value":122.4},
      {"date":"2025-11-25","index":"纳斯达克100","value":126.6},
      {"date":"2025-11-30","index":"纳斯达克100","value":128.7},
      {"date":"2025-12-05","index":"纳斯达克100","value":129.6},
      {"date":"2025-12-09","index":"纳斯达克100","value":129.6},
      {"date":"2025-12-14","index":"纳斯达克100","value":127.4},
      {"date":"2025-12-18","index":"纳斯达克100","value":125.3},
      {"date":"2025-12-23","index":"纳斯达克100","value":128},
      {"date":"2025-12-27","index":"纳斯达克100","value":129.6},
      {"date":"2026-01-02","index":"纳斯达克100","value":128},
      {"date":"2026-01-07","index":"纳斯达克100","value":128.7},
      {"date":"2026-01-11","index":"纳斯达克100","value":129.6},
      {"date":"2026-01-16","index":"纳斯达克100","value":128.7},
      {"date":"2026-01-21","index":"纳斯达克100","value":128},
      {"date":"2026-01-26","index":"纳斯达克100","value":129.6},
      {"date":"2026-01-29","index":"纳斯达克100","value":130.8},
      {"date":"2026-02-03","index":"纳斯达克100","value":127.4},
      {"date":"2026-02-08","index":"纳斯达克100","value":125.3},
      {"date":"2026-02-13","index":"纳斯达克100","value":125.7},
      {"date":"2026-02-18","index":"纳斯达克100","value":125.3},
      {"date":"2026-02-23","index":"纳斯达克100","value":125.7},
      {"date":"2026-02-27","index":"纳斯达克100","value":126.6},
      {"date":"2026-03-04","index":"纳斯达克100","value":125.3},
      {"date":"2026-03-10","index":"纳斯达克100","value":125.7},
      {"date":"2026-03-14","index":"纳斯达克100","value":123.7},
      {"date":"2026-03-19","index":"纳斯达克100","value":123.5},
      {"date":"2026-03-24","index":"纳斯达克100","value":121.5},
      {"date":"2026-03-28","index":"纳斯达克100","value":118.5},
      {"date":"2026-03-31","index":"纳斯达克100","value":116},
      {"date":"2026-04-03","index":"纳斯达克100","value":121},
      {"date":"2026-04-06","index":"纳斯达克100","value":122.4},
      {"date":"2026-04-10","index":"纳斯达克100","value":126.6},
      {"date":"2026-04-15","index":"纳斯达克100","value":129.6},
      {"date":"2026-04-19","index":"纳斯达克100","value":133.8},
      {"date":"2026-04-23","index":"纳斯达克100","value":135},
      {"date":"2026-04-28","index":"纳斯达克100","value":138},
      {"date":"2026-05-03","index":"纳斯达克100","value":140.2},
      {"date":"2026-05-07","index":"纳斯达克100","value":143.6},
      {"date":"2026-05-11","index":"纳斯达克100","value":147},
      {"date":"2026-05-15","index":"纳斯达克100","value":146.5},
      {"date":"2026-05-20","index":"纳斯达克100","value":148.6},
      {"date":"2026-05-25","index":"纳斯达克100","value":150.8},
      {"date":"2026-05-30","index":"纳斯达克100","value":152.9},
      {"date":"2026-06-02","index":"纳斯达克100","value":153.3},
      {"date":"2026-06-06","index":"纳斯达克100","value":147},
      {"date":"2026-06-09","index":"纳斯达克100","value":143.6},
      {"date":"2026-06-13","index":"纳斯达克100","value":152},
      {"date":"2026-06-17","index":"纳斯达克100","value":152.9},
      {"date":"2026-06-20","index":"纳斯达克100","value":150.8},
      {"date":"2026-06-24","index":"纳斯达克100","value":147.8},
      {"date":"2026-06-29","index":"纳斯达克100","value":151.2},
      {"date":"2026-07-04","index":"纳斯达克100","value":147},
      {"date":"2026-07-09","index":"纳斯达克100","value":149},
      {"date":"2026-07-14","index":"纳斯达克100","value":147.8},
      {"date":"2026-07-19","index":"纳斯达克100","value":145.7},
      {"date":"2026-07-23","index":"纳斯达克100","value":143.6},
      {"date":"2026-07-28","index":"纳斯达克100","value":140.6},
      {"date":"2026-07-31","index":"纳斯达克100","value":138},
      {"date":"2026-08-02","index":"纳斯达克100","value":143.6},
      {"date":"2026-08-06","index":"纳斯达克100","value":149},
      {"date":"2026-08-10","index":"纳斯达克100","value":149.9}
    ]
  },
  "mark": {"type": "line", "strokeWidth": 4, "strokeJoin": "round"},
  "encoding": {
    "x": {
      "field": "date",
      "type": "temporal",
      "scale": {
        "type": "utc",
        "domain": [
          {"year": 2024, "month": 9, "date": 24, "utc": true},
          {"year": 2026, "month": 8, "date": 10, "utc": true}
        ]
      },
      "axis": {
        "title": null,
        "grid": false,
        "format": "%b-%y",
        "values": [
          {"year": 2024, "month": 9, "date": 24, "utc": true},
          {"year": 2024, "month": 10, "date": 24, "utc": true},
          {"year": 2024, "month": 11, "date": 24, "utc": true},
          {"year": 2024, "month": 12, "date": 24, "utc": true},
          {"year": 2025, "month": 1, "date": 24, "utc": true},
          {"year": 2025, "month": 2, "date": 24, "utc": true},
          {"year": 2025, "month": 3, "date": 24, "utc": true},
          {"year": 2025, "month": 4, "date": 24, "utc": true},
          {"year": 2025, "month": 5, "date": 24, "utc": true},
          {"year": 2025, "month": 6, "date": 24, "utc": true},
          {"year": 2025, "month": 7, "date": 24, "utc": true},
          {"year": 2025, "month": 8, "date": 24, "utc": true},
          {"year": 2025, "month": 9, "date": 24, "utc": true},
          {"year": 2025, "month": 10, "date": 24, "utc": true},
          {"year": 2025, "month": 11, "date": 24, "utc": true},
          {"year": 2025, "month": 12, "date": 24, "utc": true},
          {"year": 2026, "month": 1, "date": 24, "utc": true},
          {"year": 2026, "month": 2, "date": 24, "utc": true},
          {"year": 2026, "month": 3, "date": 24, "utc": true},
          {"year": 2026, "month": 4, "date": 24, "utc": true},
          {"year": 2026, "month": 5, "date": 24, "utc": true},
          {"year": 2026, "month": 6, "date": 24, "utc": true},
          {"year": 2026, "month": 7, "date": 24, "utc": true}
        ],
        "labelAngle": -90,
        "labelFont": "Liberation Sans",
        "labelFontSize": 21,
        "labelColor": "black",
        "labelPadding": 5,
        "labelOverlap": false,
        "labelFlush": false,
        "tickSize": 7,
        "tickColor": "#D9D9D9",
        "domainColor": "#D9D9D9",
        "domainWidth": 1.5,
        "tickWidth": 1.5
      }
    },
    "y": {
      "field": "value",
      "type": "quantitative",
      "scale": {"domain": [80, 280], "nice": false, "zero": false},
      "axis": {
        "title": null,
        "grid": false,
        "domain": false,
        "ticks": false,
        "values": [80, 100, 120, 140, 160, 180, 200, 220, 240, 260, 280],
        "labelFont": "Liberation Sans",
        "labelFontSize": 21,
        "labelColor": "black",
        "labelPadding": 27
      }
    },
    "color": {
      "field": "index",
      "type": "nominal",
      "scale": {
        "domain": ["恒生指数", "恒生科技", "创业板指", "纳斯达克100"],
        "range": ["#0A0A80", "#9DC3E6", "#800000", "#808080"]
      },
      "legend": {
        "title": null,
        "orient": "none",
        "legendX": 96,
        "legendY": -36,
        "direction": "horizontal",
        "columns": 4,
        "gridAlign": "all",
        "columnPadding": 33,
        "padding": 0,
        "symbolType": "stroke",
        "symbolSize": 900,
        "symbolStrokeWidth": 4,
        "labelFont": "Liberation Sans, Noto Sans CJK SC",
        "labelFontSize": 22,
        "labelColor": "black",
        "labelOffset": 3
      }
    }
  }
}
